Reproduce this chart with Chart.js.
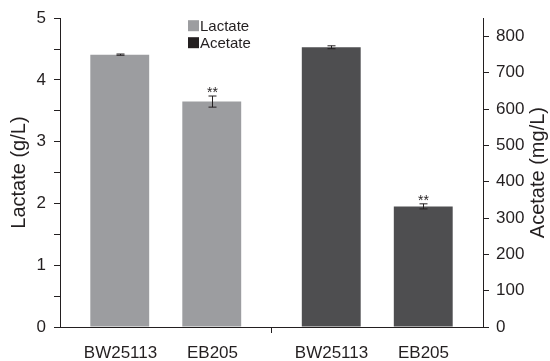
<!DOCTYPE html>
<html>
<head>
<meta charset="utf-8">
<script src="https://cdn.jsdelivr.net/npm/chart.js@4"></script>
<style>
  html, body { margin: 0; padding: 0; background: #fff; }
  #wrap { width: 550px; height: 361px; }
</style>
</head>
<body>
<div id="wrap"><canvas id="chart"></canvas></div>
<script>
// data
const groups = ['Lactate', 'Acetate'];
const strains = ['BW25113', 'EB205'];
const lactateMeans = [4.41, 3.65];     // g/L
const lactateErrors = [0.01, 0.09];
const acetateMeans = [770, 332];       // mg/L
const acetateErrors = [4, 7];
const stars = ['', '**'];

const LACTATE_MAX = 5;
const ACETATE_MAX = 850;

const INK = '#231f20';
const GREY = '#9c9da0';
const DARK = '#4e4e50';
const FONT = '"Liberation Sans", Arial, sans-serif';

// one dataset per bar, nulls skipped so each group only holds its own two bars
const datasets = [];
strains.forEach((s, i) => {
	datasets.push({ label: s + ' lactate', data: [lactateMeans[i], null], err: lactateErrors[i], star: stars[i], strain: s, yAxisID: 'y', backgroundColor: GREY });
});
strains.forEach((s, i) => {
	datasets.push({ label: s + ' acetate', data: [null, acetateMeans[i]], err: acetateErrors[i], star: stars[i], strain: s, yAxisID: 'y1', backgroundColor: DARK });
});

//Disegna barre d'errore, asterischi, nomi dei ceppi, legenda e titolo destro.
const extras = {
	id: 'extras',
	afterDatasetsDraw(chart){
		const ctx = chart.ctx;
		ctx.save();
		ctx.strokeStyle = INK;
		ctx.fillStyle = INK;
		ctx.lineWidth = 1;

		chart.data.datasets.forEach((ds, i) => {
			const meta = chart.getDatasetMeta(i);
			const yScale = chart.scales[ds.yAxisID];
			ds.data.forEach((v, j) => {
				if(v === null) return;
				const x = Math.round(meta.data[j].x) + 0.5;
				const top = yScale.getPixelForValue(v + ds.err);
				const bot = yScale.getPixelForValue(v - ds.err);
				ctx.beginPath();
				ctx.moveTo(x, top); ctx.lineTo(x, bot);
				ctx.moveTo(x - 4, top); ctx.lineTo(x + 4, top);
				ctx.moveTo(x - 4, bot); ctx.lineTo(x + 4, bot);
				ctx.stroke();

				if(ds.star){
					ctx.font = '14px ' + FONT;
					ctx.textAlign = 'center';
					ctx.textBaseline = 'alphabetic';
					ctx.fillText(ds.star, x, top + 1);
				}

				ctx.font = '17px ' + FONT;
				ctx.textAlign = 'center';
				ctx.textBaseline = 'alphabetic';
				ctx.fillText(ds.strain, x, chart.chartArea.bottom + 31);
			});
		});

		//Legenda.
		const legendColors = [GREY, INK];
		ctx.font = '15px ' + FONT;
		ctx.textAlign = 'left';
		ctx.textBaseline = 'alphabetic';
		groups.forEach((g, k) => {
			const y = chart.chartArea.top + 2 + k * 17;
			ctx.fillStyle = legendColors[k];
			ctx.fillRect(188, y, 11, 11);
			ctx.fillStyle = INK;
			ctx.fillText(g, 200, y + 11);
		});

		//Titolo asse destro (ruotato come quello sinistro).
		ctx.translate(538, (chart.chartArea.top + chart.chartArea.bottom) / 2);
		ctx.rotate(-Math.PI / 2);
		ctx.font = '20px ' + FONT;
		ctx.textAlign = 'center';
		ctx.textBaseline = 'middle';
		ctx.fillText('Acetate (mg/L)', 0, 0);
		ctx.restore();
	}
};

new Chart(document.getElementById('chart'), {
	type: 'bar',
	data: { labels: groups, datasets: datasets },
	plugins: [extras],
	options: {
		responsive: true,
		maintainAspectRatio: false,
		animation: false,
		layout: { padding: { top: 17, bottom: 28, left: 0, right: 0 } },
		datasets: { bar: { skipNull: true, categoryPercentage: 0.87, barPercentage: 0.64 } },
		plugins: { legend: { display: false }, tooltip: { enabled: false } },
		scales: {
			x: {
				ticks: { display: false },
				border: { color: INK, width: 1 },
				grid: {
					offset: true,
					drawOnChartArea: false,
					drawTicks: true,
					tickLength: 6,
					tickColor: c => c.index === 1 ? INK : 'rgba(0,0,0,0)'
				}
			},
			y: {
				position: 'left',
				min: 0, max: LACTATE_MAX,
				ticks: {
					stepSize: 0.5,
					padding: 8,
					color: INK,
					font: { family: FONT, size: 17 },
					callback: v => Number.isInteger(v) ? v : ''
				},
				border: { color: INK, width: 1 },
				grid: { drawOnChartArea: false, tickLength: 6, tickColor: INK },
				title: { display: true, text: 'Lactate (g/L)', color: INK, font: { family: FONT, size: 20 }, padding: { top: 7, bottom: 0 } },
				afterFit: s => { s.width = 60; }
			},
			y1: {
				position: 'right',
				min: 0, max: ACETATE_MAX,
				ticks: {
					stepSize: 50,
					padding: 7,
					color: INK,
					font: { family: FONT, size: 17 },
					callback: v => v % 100 === 0 ? v : ''
				},
				border: { color: INK, width: 1 },
				grid: { drawOnChartArea: false, tickLength: 6, tickColor: INK },
				afterFit: s => { s.width = 67; }
			}
		}
	}
});
</script>
</body>
</html>
